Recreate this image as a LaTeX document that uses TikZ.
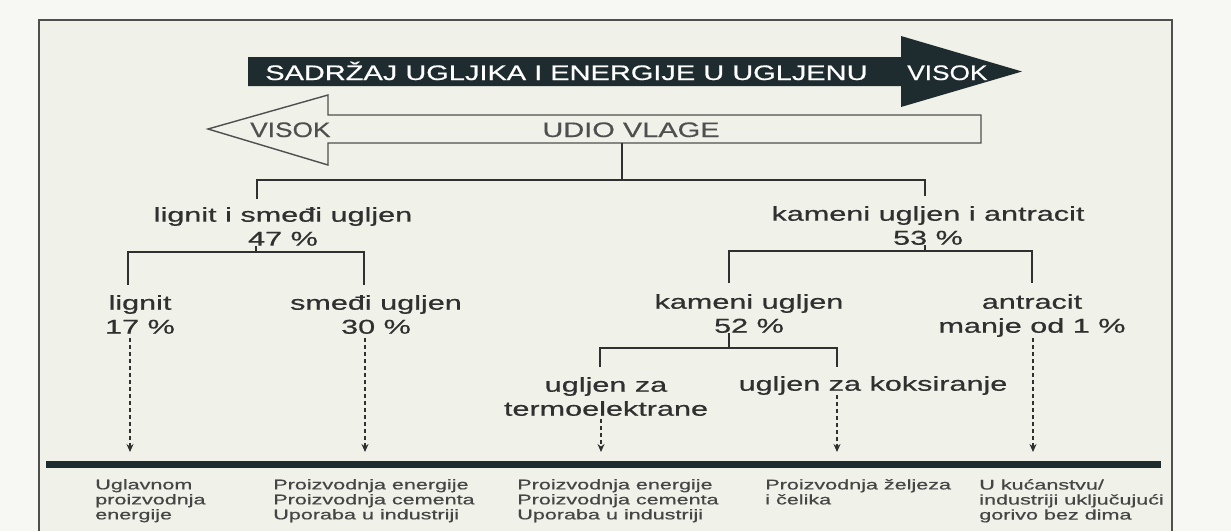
\documentclass[tikz,border=0pt]{standalone}
\usepackage{fontspec}
\setmainfont{Liberation Sans}
\newfontfamily\printfont[FakeBold=0.5]{Liberation Sans}
\usetikzlibrary{arrows.meta}

\definecolor{paper}{HTML}{F7F7F3}
\definecolor{sheet}{HTML}{F0F1E8}
\definecolor{slate}{HTML}{1F2C2F}
\definecolor{ink}{HTML}{303030}

\begin{document}
\begin{tikzpicture}[
        x=1pt, y=-1pt,
        caps/.style={font=\printfont\fontsize{21}{24}\selectfont, inner sep=0pt, anchor=base west, xscale=#1},
        caps/.default=1.38,
        coal/.style={font=\printfont\fontsize{20}{24}\selectfont, text=ink, align=center, inner sep=0pt, anchor=north, xscale=1.53},
        usetext/.style={font=\printfont\fontsize{14}{15}\selectfont, text=ink!90, align=left, inner sep=0pt, anchor=north west, xscale=1.54},
        branch/.style={draw=ink, line width=1.5pt},
        flow/.style={draw=ink, line width=1.3pt, dash pattern=on 4pt off 3pt, -{Stealth[length=8pt,width=7pt]}, shorten >=9pt}
    ]
        \useasboundingbox (0,0) rectangle (1231,531);
        \fill[paper] (0,0) rectangle (1231,531);
        \fill[sheet] (39,20) rectangle (1172,531);
        \draw[ink!85, line width=1.5pt] (39,531) -- (39,20) -- (1172,20) -- (1172,531);

        % arrows at the top
        \fill[slate] (248,57) -- (901,57) -- (901,36) -- (1022,71.5) -- (901,107) -- (901,86) -- (248,86) -- cycle;
        \draw[ink!85, line width=1.4pt, fill=sheet] (208,129) -- (328,95) -- (328,115) -- (981,115) -- (981,143) -- (328,143) -- (328,165) -- cycle;
        \coordinate (vlagaBottom) at (622,143);

        \node[caps, text=white] (sadrzaj) at (265,80) {SADRŽAJ UGLJIKA I ENERGIJE U UGLJENU};
        \node[caps=1.25, text=white] (visokA) at (907,80) {VISOK};
        \node[caps=1.25, text=ink!85] (visokB) at (250,137) {VISOK};
        \node[caps, text=ink!85, anchor=base] (vlaga) at (631,137) {UDIO VLAGE};

        % kinds of coal
        \node[coal] (lsu) at (283,207) {lignit i smeđi ugljen\\47 \%};
        \node[coal] (kua) at (928,206) {kameni ugljen i antracit\\53 \%};
        \node[coal] (lignit) at (140,295) {lignit\\17 \%};
        \node[coal] (smedji) at (376,295) {smeđi ugljen\\30 \%};
        \node[coal] (kameni) at (749,294) {kameni ugljen\\52 \%};
        \node[coal] (antracit) at (1032,294) {antracit\\manje od 1 \%};
        \node[coal] (termo) at (606,377) {ugljen za\\termoelektrane};
        \node[coal] (koks) at (873,376) {ugljen za koksiranje};

        \coordinate (s1) at (622,180);
        \draw[branch] (vlagaBottom) -- (s1);
        \draw[branch] ([shift={(-26,-8)}]lsu.north) |- (s1) -| ([shift={(-3,-10)}]kua.north);

        \draw[branch] ([shift={(-27,0)}]lsu.south) -- ++(0,6) coordinate (s2);
        \draw[branch] ([shift={(-12,-10)}]lignit.north) |- (s2) -| ([shift={(-12,-10)}]smedji.north);

        \draw[branch] ([shift={(-3,0)}]kua.south) -- ++(0,6) coordinate (s3);
        \draw[branch] ([shift={(-20,-11)}]kameni.north) |- (s3) -| ([shift={(0,-11)}]antracit.north);

        \draw[branch] ([shift={(-20,0)}]kameni.south) -- ++(0,15) coordinate (s4);
        \draw[branch] ([shift={(-6,-10)}]termo.north) |- (s4) -| ([shift={(-36,-9)}]koks.north);

        % uses
        \node[fill=slate, minimum width=1115pt, minimum height=7pt, inner sep=0pt, anchor=north west] (bar) at (46,461) {};

        \coordinate (d1) at ([shift={(-10,4)}]lignit.south);
        \coordinate (d2) at ([shift={(-11,4)}]smedji.south);
        \coordinate (d3) at ([shift={(-5,3)}]termo.south);
        \coordinate (d4) at ([shift={(-36,0)}]koks.south);
        \coordinate (d5) at ([shift={(1,1)}]antracit.south);
        \foreach \d in {d1,d2,d3,d4,d5}
            \draw[flow] (\d) -- (\d |- bar.north);

        \node[usetext] (useA) at (95,479) {Uglavnom\\proizvodnja\\energije};
        \node[usetext] (useB) at (273,479) {Proizvodnja energije\\Proizvodnja cementa\\Uporaba u industriji};
        \node[usetext] (useC) at (517,479) {Proizvodnja energije\\Proizvodnja cementa\\Uporaba u industriji};
        \node[usetext] (useD) at (765,479) {Proizvodnja željeza\\i čelika};
        \node[usetext] (useE) at (979,479) {U kućanstvu/\\industriji uključujući\\gorivo bez dima};
    \end{tikzpicture}
\end{document}
